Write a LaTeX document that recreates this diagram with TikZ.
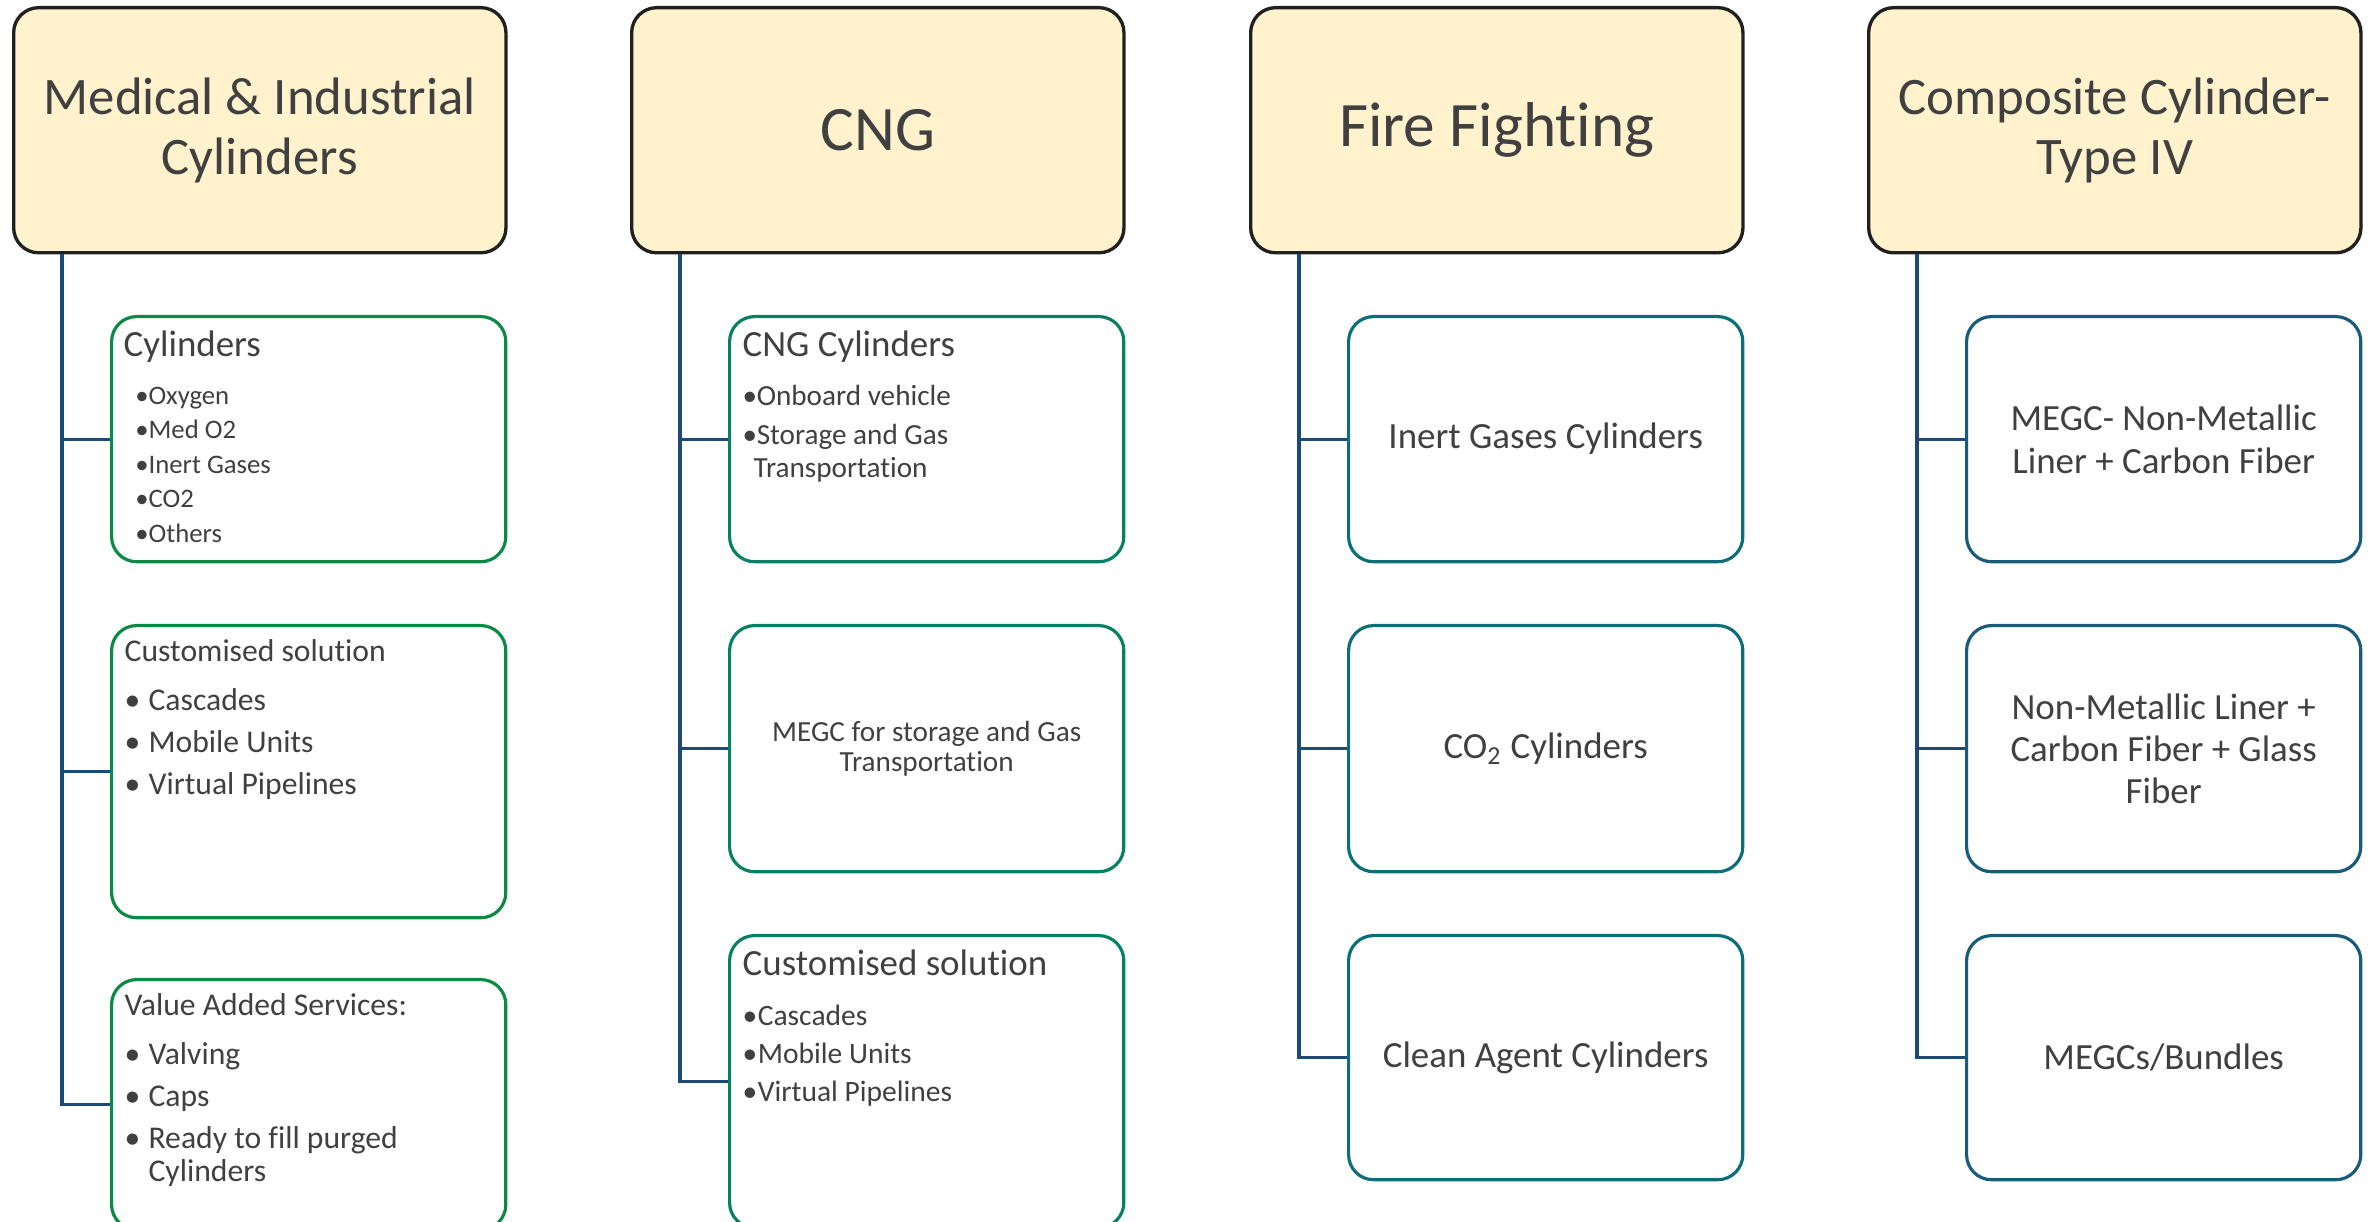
\documentclass[tikz,border=0pt]{standalone}
\usepackage{fontspec}
\setmainfont{Carlito}[Ligatures=NoCommon]

\definecolor{headfill}{RGB}{255,242,204}
\definecolor{headline}{RGB}{32,32,32}
\definecolor{ink}{RGB}{64,64,64}
\definecolor{linkblue}{RGB}{28,74,120}
\definecolor{medgreen}{RGB}{10,138,68}
\definecolor{cnggreen}{RGB}{8,128,100}
\definecolor{fireteal}{RGB}{12,110,120}
\definecolor{compblue}{RGB}{24,92,124}

\tikzset{
	head/.style={draw=headline, fill=headfill, line width=0.95pt, rounded corners=0.25cm,
		minimum width=4.92cm, minimum height=2.45cm, anchor=north west, align=center, text=ink},
	box/.style={draw=#1, line width=0.9pt, rounded corners=0.25cm, minimum width=3.94cm,
		anchor=north west, align=center, text=ink, inner sep=0pt},
	note/.style={anchor=north west, align=left, inner sep=0pt, text=ink},
	link/.style={draw=linkblue, line width=0.9pt},
}
\newcommand{\titlefont}{\fontsize{10.5}{12}\selectfont}

\begin{document}
\begin{tikzpicture}[x=0.01cm, y=-0.01cm]
	\useasboundingbox (0,0) rectangle (2374,1222);
	\clip (0,0) rectangle (2374,1222);

	% headers
	\node[head, font=\fontsize{15}{17}\selectfont] (h1) at (12,6) {Medical \& Industrial\\Cylinders};
	\node[head, font=\fontsize{18}{21}\selectfont] (h2) at (630,6) {CNG};
	\node[head, font=\fontsize{18}{21}\selectfont] (h3) at (1249,6) {Fire Fighting};
	\node[head, font=\fontsize{15}{17}\selectfont] (h4) at (1867,6) {Composite Cylinder-\\Type IV};

	% medical & industrial
	\node[box=medgreen, minimum height=2.45cm] (c11) at (110,315) {};
	\node[box=medgreen, minimum height=2.92cm] (c12) at (110,624) {};
	\node[box=medgreen, minimum height=2.50cm] (c13) at (110,978) {};

	\node[note, font=\fontsize{7.6}{9.8}\selectfont] (t11) at ([shift={(13,15)}]c11.north west)
		{{\titlefont Cylinders}\\[3.9pt]
		\hspace*{3.3pt}\makebox[3.8pt][l]{•}Oxygen\\
		\hspace*{3.3pt}\makebox[3.8pt][l]{•}Med O2\\
		\hspace*{3.3pt}\makebox[3.8pt][l]{•}Inert Gases\\
		\hspace*{3.3pt}\makebox[3.8pt][l]{•}CO2\\
		\hspace*{3.3pt}\makebox[3.8pt][l]{•}Others};
	\node[note, font=\fontsize{9}{9.4}\selectfont] (t12) at ([shift={(14,15)}]c12.north west)
		{Customised solution\\[4.5pt]
		\makebox[6.8pt][l]{•}Cascades\\[2.5pt]
		\makebox[6.8pt][l]{•}Mobile Units\\[2.5pt]
		\makebox[6.8pt][l]{•}Virtual Pipelines};
	\node[note, font=\fontsize{9}{9.4}\selectfont] (t13) at ([shift={(14,15)}]c13.north west)
		{Value Added Services:\\[4.5pt]
		\makebox[6.8pt][l]{•}Valving\\[2.5pt]
		\makebox[6.8pt][l]{•}Caps\\[2.5pt]
		\makebox[6.8pt][l]{•}Ready to fill purged\\
		\hspace*{6.8pt}Cylinders};

	% CNG
	\node[box=cnggreen, minimum height=2.45cm] (c21) at (728,315) {};
	\node[box=cnggreen, minimum height=2.46cm, font=\fontsize{8.3}{8.7}\selectfont] (c22) at (728,624)
		{MEGC for storage and Gas\\Transportation};
	\node[box=cnggreen, minimum height=2.92cm] (c23) at (728,934) {};

	\node[note, font=\fontsize{8.3}{9.4}\selectfont] (t21) at ([shift={(14,15)}]c21.north west)
		{{\titlefont CNG Cylinders}\\[4.5pt]
		\makebox[4pt][l]{•}Onboard vehicle\\[1.7pt]
		\makebox[4pt][l]{•}Storage and Gas\\
		\hspace*{3.1pt}Transportation};
	\node[note, font=\fontsize{8.4}{10.8}\selectfont] (t23) at ([shift={(14,15)}]c23.north west)
		{{\titlefont Customised solution}\\[3.4pt]
		\makebox[4.3pt][l]{•}Cascades\\
		\makebox[4.3pt][l]{•}Mobile Units\\
		\makebox[4.3pt][l]{•}Virtual Pipelines};

	% fire fighting
	\node[box=fireteal, minimum height=2.45cm, font=\titlefont] (c31) at (1347,315) {Inert Gases Cylinders};
	\node[box=fireteal, minimum height=2.46cm, font=\titlefont] (c32) at (1347,624) {CO\textsubscript{2} Cylinders};
	\node[box=fireteal, minimum height=2.44cm, font=\titlefont] (c33) at (1347,934) {Clean Agent Cylinders};

	% composite
	\node[box=compblue, minimum height=2.45cm, font=\fontsize{10.5}{12.4}\selectfont] (c41) at (1965,315)
		{MEGC- Non-Metallic\\Liner + Carbon Fiber};
	\node[box=compblue, minimum height=2.46cm, font=\fontsize{10.5}{12}\selectfont] (c42) at (1965,624)
		{Non-Metallic Liner +\\Carbon Fiber + Glass\\Fiber};
	\node[box=compblue, minimum height=2.44cm, font=\titlefont] (c43) at (1965,934) {MEGCs/Bundles};

	% connectors
	\foreach \c in {1,...,4}
		\foreach \r in {1,2,3}
			\draw[link] ([xshift=0.5cm]h\c.south west) |- (c\c\r.west);
\end{tikzpicture}
\end{document}
